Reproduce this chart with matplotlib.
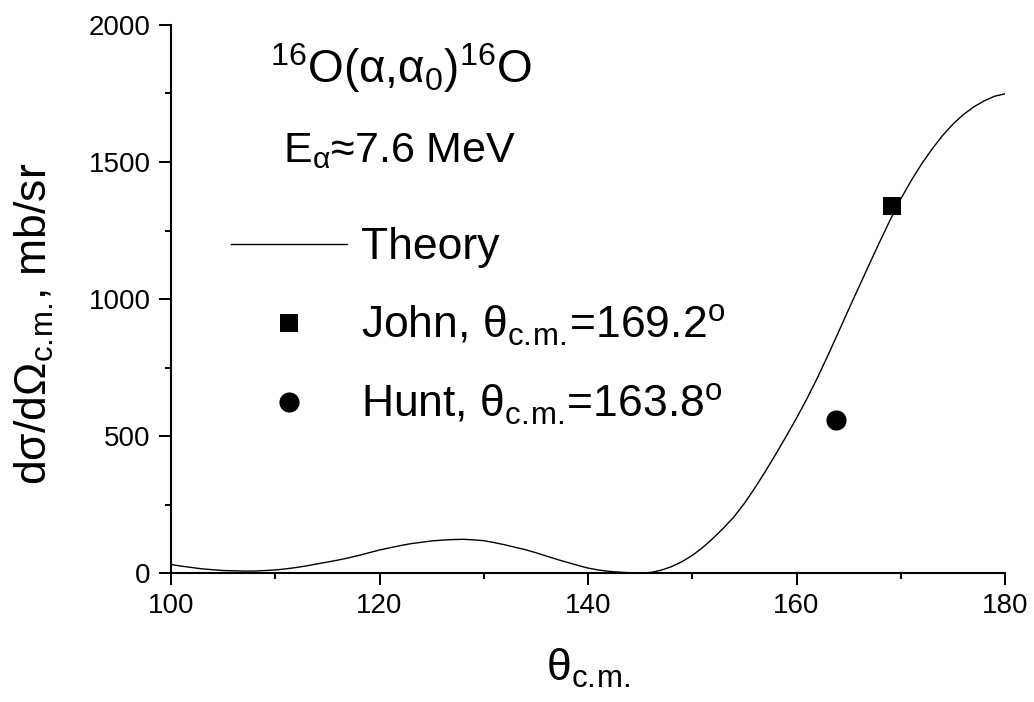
import matplotlib
matplotlib.use("Agg")
import matplotlib.pyplot as plt
from matplotlib.ticker import MultipleLocator
from matplotlib.lines import Line2D

plt.rcParams['font.family'] = ['Liberation Sans', 'DejaVu Sans']
plt.rcParams['mathtext.fontset'] = 'custom'
plt.rcParams['mathtext.rm'] = 'Liberation Sans'
plt.rcParams['mathtext.default'] = 'regular'

# theory curve, cross section (mb/sr) vs c.m. angle (deg)
theta_theory = list(range(100, 181))
sigma_theory = [31, 25, 20, 15, 12, 9, 8, 7, 7, 9,
                11, 15, 20, 26, 33, 40, 47, 55, 64, 74,
                84, 92, 100, 107, 112, 117, 120, 122, 123, 121,
                118, 111, 103, 94, 85, 74, 62, 50, 39, 28,
                18, 11, 6, 3, 1, 0, 2, 10, 23, 41,
                64, 93, 127, 164, 205, 254, 310, 370, 433, 498,
                565, 636, 712, 793, 877, 962, 1045, 1128, 1210, 1290,
                1365, 1432, 1493, 1547, 1596, 1638, 1673, 1701, 1723, 1740,
                1749]

# measured points
theta_john = [169.2]
sigma_john = [1340]
theta_hunt = [163.8]
sigma_hunt = [560]

fig = plt.figure(figsize=(10.34, 7.02), dpi=100)
ax = fig.add_axes([171 / 1034, 1 - 573 / 702, 834 / 1034, 548 / 702])

ax.plot(theta_theory, sigma_theory, color='black', lw=1.0)
ax.plot(theta_john, sigma_john, 's', color='black', ms=13.5, mew=0)
ax.plot(theta_hunt, sigma_hunt, 'o', color='black', ms=14.5, mew=0)

ax.set_xlim(100, 180)
ax.set_ylim(0, 2000)
ax.xaxis.set_major_locator(MultipleLocator(20))
ax.xaxis.set_minor_locator(MultipleLocator(10))
ax.yaxis.set_major_locator(MultipleLocator(500))
ax.yaxis.set_minor_locator(MultipleLocator(250))

for side in ['top', 'right']:
    ax.spines[side].set_visible(False)
for side in ['left', 'bottom']:
    ax.spines[side].set_linewidth(1.5)

ax.tick_params(which='major', direction='out', length=8.6, width=1.4, labelsize=20, pad=6)
ax.tick_params(which='minor', direction='out', length=4.3, width=1.4)

# \! cancels the extra gap mathtext puts after each dot
cm = r'$_{c.\!m.\!}$'
ax.set_xlabel('θ' + cm, fontsize=32)
ax.set_ylabel('dσ/dΩ' + cm + ', mb/sr', fontsize=32)
ax.xaxis.set_label_coords(0.5, -0.135)
ax.yaxis.set_label_coords(-0.138, 0.455)

ax.text(0.119, 0.894, r'$^{16}$O(α,α$_0$)$^{16}$O', transform=ax.transAxes,
        fontsize=33, ha='left', va='baseline')
ax.text(0.134, 0.750, r'E$_α$≈7.6 MeV', transform=ax.transAxes,
        fontsize=31, ha='left', va='baseline')

handles = [
    Line2D([], [], color='black', lw=1.0),
    Line2D([], [], ls='none', marker='s', color='black', ms=13.5, mew=0),
    Line2D([], [], ls='none', marker='o', color='black', ms=14.5, mew=0),
]
labels = ['Theory',
          'John, θ' + cm + '=169.2$^o$',
          'Hunt, θ' + cm + '=163.8$^o$']
ax.legend(handles, labels, loc='upper left', bbox_to_anchor=(0.072, 0.631),
          frameon=False, fontsize=32, handlelength=2.62, handletextpad=0.3,
          labelspacing=0.77, borderpad=0, borderaxespad=0)

fig.savefig('out.png', dpi=100)
